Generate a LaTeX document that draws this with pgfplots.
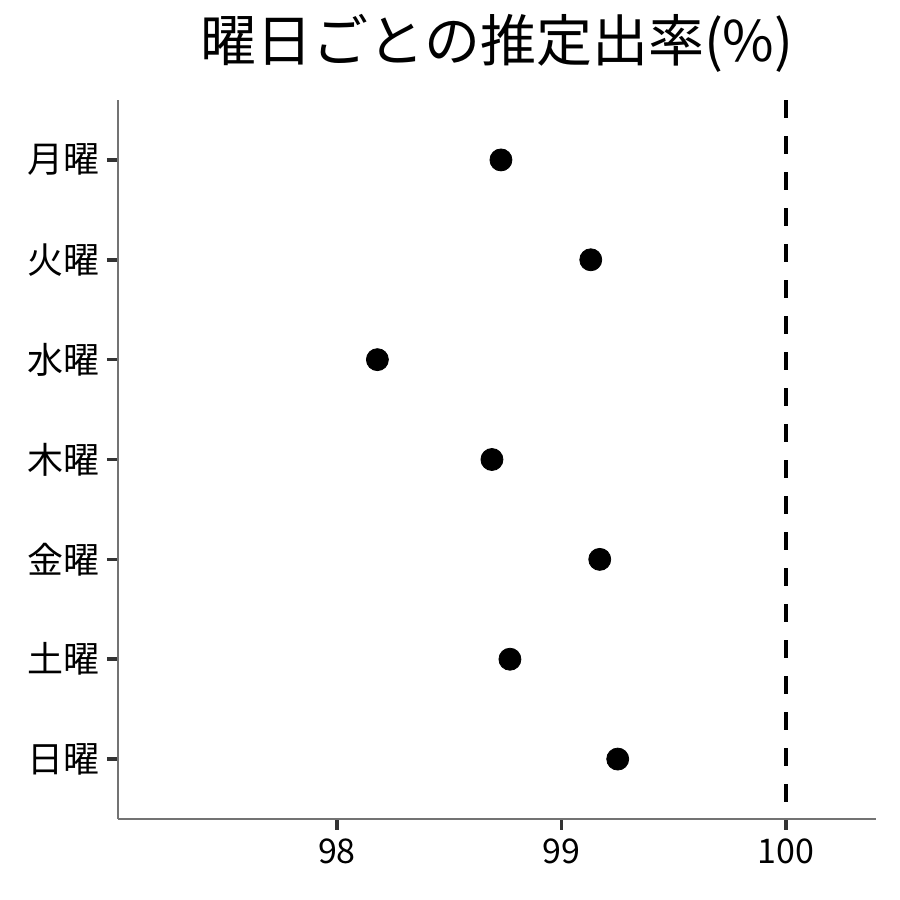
\documentclass[border=0pt]{standalone}
\usepackage{pgfplots}
\pgfplotsset{compat=1.18}
\usepackage{fontspec}
\setmainfont{Noto Sans CJK JP}

\begin{document}
\begin{tikzpicture}
\useasboundingbox (-59pt,-40.5pt) rectangle (391pt,409.5pt);
\begin{axis}[
  at={(0,0)}, anchor=south west,
  scale only axis, width=379pt, height=359.5pt,
  xmin=97.025, xmax=100.4, ymin=-0.6, ymax=6.6,
  axis x line*=bottom, axis y line*=left,
  axis line style={color=black!55, line width=0.6pt, -},
  xtick={98,99,100}, ytick={0,1,2,3,4,5,6},
  yticklabels={日曜,土曜,金曜,木曜,水曜,火曜,月曜},
  tick align=outside, major tick length=5.5pt,
  major tick style={color=black!80, line width=1.8pt},
  xticklabel style={font=\fontsize{17}{20}\selectfont, yshift=-1pt},
  yticklabel style={font=\fontsize{18}{21}\selectfont},
  /pgf/number format/assume math mode=true,
  title={曜日ごとの推定出率(\%)},
  title style={font=\fontsize{28}{32}\selectfont, yshift=4pt},
  clip=false,
]
\addplot[only marks, mark=*, mark size=5.5pt, color=black] coordinates {
(98.73,6)
(99.13,5)
(98.18,4)
(98.69,3)
(99.17,2)
(98.77,1)
(99.25,0)
};
\addplot[black, line width=2pt, dash pattern=on 9pt off 9pt] coordinates {
(100,6.6)
(100,-0.6)
};
\end{axis}
\end{tikzpicture}
\end{document}
